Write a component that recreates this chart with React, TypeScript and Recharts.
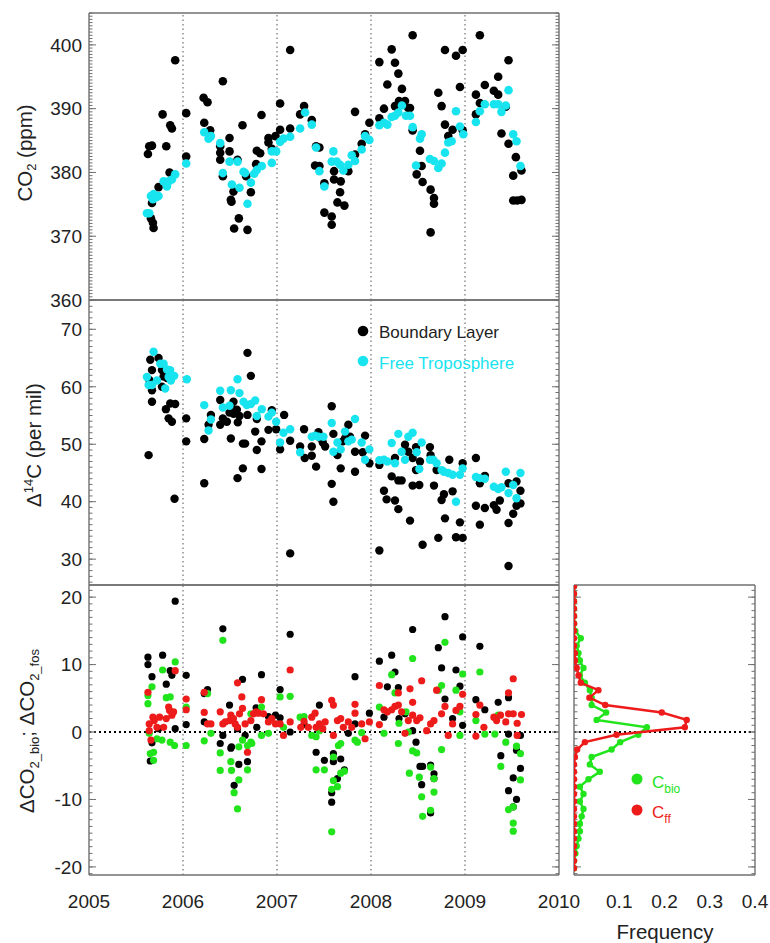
import React from 'react'
import { ScatterChart, Scatter, XAxis, YAxis, ReferenceLine } from 'recharts'

type Pt = [number, number]

// ticks / categories
const YEAR_TICKS = [2005, 2006, 2007, 2008, 2009, 2010]
const YEAR_LINES = [2006, 2007, 2008, 2009]
const CO2_TICKS = [360, 370, 380, 390, 400]
const D14C_TICKS = [30, 40, 50, 60, 70]
const DCO2_TICKS = [-20, -10, 0, 10, 20]
const FREQ_TICKS = [0.1, 0.2, 0.3, 0.4]

// CO2 (ppm), [decimal year, value]
const co2Boundary: Pt[] = [
  [2005.627, 382.9], [2005.641, 384.1], [2005.67, 384.2], [2005.67, 375.2], [2005.659, 372.8], [2005.68, 372.1],
  [2005.687, 371.3], [2005.74, 377.7], [2005.783, 389.1], [2005.822, 384.1], [2005.864, 387.4], [2005.882, 386.9],
  [2005.857, 380.0], [2005.917, 397.6], [2006.034, 389.3], [2006.034, 382.5], [2006.219, 391.7], [2006.261, 391.0],
  [2006.226, 387.8], [2006.289, 386.6], [2006.424, 394.3], [2006.396, 384.1], [2006.396, 383.1], [2006.396, 382.0],
  [2006.424, 379.4], [2006.495, 385.4], [2006.495, 383.3], [2006.509, 375.7], [2006.516, 375.4], [2006.537, 377.0],
  [2006.58, 382.0], [2006.544, 371.2], [2006.594, 372.8], [2006.633, 387.4], [2006.672, 379.4], [2006.686, 371.0],
  [2006.722, 376.9], [2006.778, 381.3], [2006.785, 383.4], [2006.835, 389.0], [2006.821, 383.0], [2006.909, 385.4],
  [2006.909, 384.7], [2006.945, 383.7], [2006.984, 385.7], [2007.033, 390.8], [2007.033, 386.7], [2007.14, 399.2],
  [2007.14, 386.9], [2007.246, 389.1], [2007.288, 390.4], [2007.37, 388.2], [2007.416, 384.1], [2007.451, 383.9],
  [2007.405, 381.1], [2007.451, 381.0], [2007.504, 378.3], [2007.504, 373.7], [2007.582, 373.1], [2007.582, 371.8],
  [2007.607, 380.2], [2007.607, 378.9], [2007.643, 375.3], [2007.671, 376.9], [2007.678, 378.6], [2007.717, 374.8],
  [2007.759, 380.2], [2007.83, 389.5], [2007.83, 382.8], [2007.901, 384.5], [2007.937, 386.0], [2007.983, 387.8],
  [2008.089, 397.3], [2008.089, 388.5], [2008.138, 390.0], [2008.174, 393.8], [2008.22, 399.3], [2008.255, 397.2],
  [2008.255, 390.4], [2008.291, 395.5], [2008.298, 391.2], [2008.329, 393.1], [2008.362, 391.2], [2008.397, 390.1],
  [2008.415, 390.1], [2008.443, 386.6], [2008.443, 401.5], [2008.521, 383.4], [2008.486, 379.7], [2008.539, 381.0],
  [2008.549, 378.5], [2008.634, 377.3], [2008.67, 376.0], [2008.67, 375.1], [2008.634, 370.6], [2008.716, 392.5],
  [2008.751, 390.4], [2008.787, 399.2], [2008.787, 387.5], [2008.822, 385.7], [2008.868, 386.7], [2008.904, 398.3],
  [2008.946, 393.4], [2008.975, 399.2], [2008.975, 386.6], [2009.116, 392.2], [2009.116, 389.1], [2009.158, 401.5],
  [2009.158, 390.9], [2009.211, 393.7], [2009.307, 392.8], [2009.353, 395.0], [2009.353, 392.2], [2009.388, 386.1],
  [2009.434, 390.3], [2009.463, 397.6], [2009.463, 384.5], [2009.541, 382.4], [2009.513, 379.5], [2009.513, 375.6],
  [2009.555, 375.6], [2009.601, 375.7], [2009.601, 380.3],
]
const co2Free: Pt[] = [
  [2005.616, 373.6], [2005.641, 373.6], [2005.659, 376.3], [2005.687, 376.6], [2005.68, 375.8], [2005.716, 376.1],
  [2005.74, 376.3], [2005.794, 378.6], [2005.829, 377.8], [2005.847, 378.6], [2005.882, 378.9], [2005.917, 379.7],
  [2006.034, 381.4], [2006.226, 386.3], [2006.272, 385.3], [2006.297, 385.7], [2006.396, 384.6], [2006.424, 379.9],
  [2006.495, 381.7], [2006.52, 378.1], [2006.58, 381.7], [2006.601, 377.6], [2006.644, 380.1], [2006.661, 379.9],
  [2006.686, 375.1], [2006.722, 378.4], [2006.757, 379.8], [2006.785, 380.4], [2006.838, 381.0], [2006.945, 383.3],
  [2006.945, 381.5], [2006.991, 383.3], [2007.033, 384.8], [2007.069, 385.3], [2007.14, 385.6], [2007.246, 386.9],
  [2007.299, 389.4], [2007.37, 387.5], [2007.416, 383.9], [2007.451, 380.2], [2007.504, 377.8], [2007.6, 383.3],
  [2007.582, 381.7], [2007.635, 381.7], [2007.671, 381.2], [2007.706, 380.3], [2007.759, 381.2], [2007.795, 382.7],
  [2007.83, 381.8], [2007.901, 383.6], [2007.937, 385.7], [2007.983, 385.1], [2008.089, 387.4], [2008.138, 387.8],
  [2008.174, 387.5], [2008.22, 388.7], [2008.255, 388.9], [2008.291, 389.4], [2008.329, 390.5], [2008.372, 388.9],
  [2008.415, 388.9], [2008.443, 387.1], [2008.521, 385.3], [2008.539, 386.0], [2008.479, 381.1], [2008.627, 382.1],
  [2008.67, 381.8], [2008.716, 380.7], [2008.751, 381.4], [2008.787, 383.1], [2008.822, 384.7], [2008.858, 384.9],
  [2008.904, 389.6], [2008.946, 387.2], [2008.982, 386.0], [2009.116, 387.9], [2009.158, 389.6], [2009.211, 390.7],
  [2009.307, 390.7], [2009.353, 390.7], [2009.388, 389.5], [2009.434, 390.5], [2009.463, 392.9], [2009.513, 386.0],
  [2009.548, 384.9], [2009.59, 381.0],
]

// Δ14C (per mil)
const d14cBoundary: Pt[] = [
  [2005.634, 48.1], [2005.641, 61.2], [2005.652, 64.7], [2005.67, 62.9], [2005.67, 59.4], [2005.67, 57.4],
  [2005.74, 65.0], [2005.776, 62.9], [2005.794, 61.8], [2005.829, 61.5], [2005.776, 60.0], [2005.818, 56.1],
  [2005.847, 54.5], [2005.882, 53.9], [2005.864, 57.1], [2005.917, 57.0], [2005.91, 40.5], [2006.034, 54.5],
  [2006.034, 50.5], [2006.226, 50.9], [2006.226, 43.2], [2006.272, 53.4], [2006.297, 55.1], [2006.396, 53.4],
  [2006.396, 57.7], [2006.424, 54.5], [2006.467, 53.9], [2006.495, 55.5], [2006.52, 56.2], [2006.537, 55.3],
  [2006.573, 56.0], [2006.509, 51.0], [2006.537, 57.4], [2006.583, 53.8], [2006.58, 44.1], [2006.601, 54.9],
  [2006.637, 50.1], [2006.661, 50.1], [2006.637, 45.8], [2006.686, 65.9], [2006.686, 55.1], [2006.722, 61.9],
  [2006.768, 52.2], [2006.785, 49.0], [2006.785, 54.4], [2006.835, 50.5], [2006.835, 45.7], [2006.909, 52.5],
  [2006.945, 55.9], [2006.991, 52.6], [2007.033, 49.1], [2007.076, 55.1], [2007.14, 50.6], [2007.14, 31.0],
  [2007.246, 49.6], [2007.288, 52.6], [2007.295, 47.6], [2007.37, 48.0], [2007.37, 49.6], [2007.416, 46.1],
  [2007.441, 52.1], [2007.458, 51.1], [2007.487, 50.3], [2007.512, 49.6], [2007.582, 56.6], [2007.582, 43.1],
  [2007.6, 40.0], [2007.6, 51.8], [2007.643, 48.1], [2007.678, 45.8], [2007.699, 50.5], [2007.724, 51.0],
  [2007.759, 53.4], [2007.777, 51.3], [2007.83, 48.7], [2007.83, 45.2], [2007.912, 48.6], [2007.937, 51.5],
  [2007.983, 46.7], [2008.089, 46.4], [2008.089, 31.5], [2008.138, 41.9], [2008.166, 40.4], [2008.22, 44.4],
  [2008.255, 40.2], [2008.255, 47.6], [2008.291, 38.7], [2008.291, 43.7], [2008.326, 43.7], [2008.362, 49.9],
  [2008.397, 48.7], [2008.415, 36.7], [2008.443, 42.8], [2008.479, 49.5], [2008.443, 47.6], [2008.479, 45.5],
  [2008.514, 42.9], [2008.521, 47.0], [2008.549, 32.5], [2008.627, 49.5], [2008.634, 48.1], [2008.67, 42.8],
  [2008.698, 45.5], [2008.716, 33.7], [2008.751, 40.3], [2008.776, 41.3], [2008.787, 37.1], [2008.833, 47.3],
  [2008.868, 41.8], [2008.904, 33.8], [2008.946, 36.4], [2008.975, 46.7], [2008.975, 33.7], [2009.116, 47.6],
  [2009.116, 39.3], [2009.158, 36.0], [2009.158, 43.2], [2009.211, 44.5], [2009.211, 38.9], [2009.307, 39.4],
  [2009.336, 38.6], [2009.371, 40.2], [2009.463, 43.2], [2009.463, 36.3], [2009.463, 28.8], [2009.513, 37.9],
  [2009.548, 39.3], [2009.548, 43.5], [2009.59, 41.9], [2009.59, 39.7],
]
const d14cFree: Pt[] = [
  [2005.616, 61.7], [2005.634, 60.3], [2005.67, 60.3], [2005.687, 66.1], [2005.723, 61.1], [2005.758, 64.0],
  [2005.794, 64.0], [2005.811, 59.7], [2005.829, 63.0], [2005.864, 62.9], [2005.847, 61.7], [2005.907, 61.9],
  [2005.871, 61.1], [2006.041, 61.3], [2006.226, 56.8], [2006.272, 52.4], [2006.297, 54.3], [2006.396, 59.3],
  [2006.424, 56.4], [2006.495, 56.7], [2006.509, 59.4], [2006.58, 61.3], [2006.601, 58.9], [2006.644, 57.4],
  [2006.679, 56.8], [2006.722, 57.0], [2006.768, 57.6], [2006.785, 54.9], [2006.838, 56.1], [2006.909, 54.8],
  [2006.945, 55.5], [2006.991, 53.9], [2007.033, 50.3], [2007.069, 52.0], [2007.14, 52.6], [2007.246, 48.6],
  [2007.37, 51.3], [2007.405, 51.5], [2007.441, 51.3], [2007.494, 51.3], [2007.582, 53.7], [2007.6, 48.7],
  [2007.643, 50.3], [2007.678, 49.1], [2007.724, 52.2], [2007.759, 50.5], [2007.795, 50.8], [2007.83, 54.4],
  [2007.901, 50.3], [2007.937, 47.3], [2007.983, 49.1], [2008.089, 47.2], [2008.138, 47.3], [2008.174, 47.0],
  [2008.22, 50.2], [2008.255, 46.7], [2008.291, 51.8], [2008.326, 48.7], [2008.362, 47.3], [2008.397, 51.3],
  [2008.443, 52.0], [2008.486, 48.6], [2008.514, 45.7], [2008.539, 50.3], [2008.627, 47.3], [2008.662, 47.3],
  [2008.698, 46.7], [2008.751, 45.5], [2008.776, 45.2], [2008.822, 45.0], [2008.868, 44.7], [2008.904, 40.0],
  [2008.946, 44.7], [2008.975, 45.8], [2009.116, 44.3], [2009.158, 44.1], [2009.211, 44.0], [2009.307, 42.6],
  [2009.353, 42.2], [2009.388, 42.5], [2009.434, 45.2], [2009.463, 41.5], [2009.513, 42.9], [2009.548, 40.6],
  [2009.59, 45.0],
]

// ΔCO2 total, biospheric, fossil (ppm)
const dco2Total: Pt[] = [
  [2005.627, 11.1], [2005.627, 10.0], [2005.67, 8.2], [2005.783, 11.4], [2005.822, 7.1], [2005.864, 9.1],
  [2005.882, 8.4], [2005.917, 19.4], [2005.652, -4.3], [2005.67, -1.6], [2005.74, 0.5], [2005.917, 0.5],
  [2006.034, 8.4], [2006.034, 1.1], [2006.226, 5.7], [2006.261, 6.3], [2006.226, 1.5], [2006.424, 15.3],
  [2006.424, -0.5], [2006.396, -1.7], [2006.495, 4.0], [2006.509, -2.4], [2006.516, -2.2], [2006.544, -7.9],
  [2006.594, -4.8], [2006.58, 0.5], [2006.633, 7.8], [2006.661, -0.5], [2006.686, -4.4], [2006.778, 3.6],
  [2006.835, 8.5], [2006.785, 0.7], [2006.909, 2.3], [2006.984, 2.5], [2007.033, 6.3], [2007.033, 2.1],
  [2007.14, 14.5], [2007.14, 0.0], [2007.288, 1.1], [2007.451, 4.0], [2007.416, -3.0], [2007.504, -4.2],
  [2007.6, -3.2], [2007.6, -4.4], [2007.582, -9.0], [2007.582, -10.4], [2007.643, -6.9], [2007.678, -4.0],
  [2007.717, -5.6], [2007.83, 8.2], [2007.83, 1.2], [2007.759, -0.2], [2007.983, 2.8], [2008.089, 10.5],
  [2008.138, 2.2], [2008.22, 11.4], [2008.255, 8.9], [2008.174, 6.7], [2008.291, 6.6], [2008.298, 2.0],
  [2008.362, 2.7], [2008.443, 15.2], [2008.443, 0.2], [2008.479, -1.5], [2008.521, -5.1], [2008.549, -5.1],
  [2008.539, -7.8], [2008.634, -4.9], [2008.67, -6.2], [2008.67, -6.9], [2008.634, -12.0], [2008.716, 12.5],
  [2008.751, 9.5], [2008.787, 4.9], [2008.787, 17.1], [2008.868, 2.0], [2008.904, 9.2], [2008.946, 6.8],
  [2008.975, 14.1], [2008.975, 1.0], [2009.116, 4.8], [2009.158, 12.7], [2009.211, 3.3], [2009.353, 4.4],
  [2009.463, 5.1], [2009.381, -3.5], [2009.463, -8.7], [2009.513, -6.8], [2009.513, -11.1], [2009.548, -10.0],
  [2009.548, -2.7], [2009.59, -0.5], [2009.59, -5.4], [2009.463, -0.3],
]
const dco2Bio: Pt[] = [
  [2005.627, 5.4], [2005.627, 4.2], [2005.67, 6.7], [2005.652, -3.2], [2005.687, -3.0], [2005.687, -4.2],
  [2005.641, -0.2], [2005.723, -1.0], [2005.776, -1.2], [2005.783, 9.2], [2005.822, 5.1], [2005.864, 5.2],
  [2005.917, 10.4], [2005.864, -1.5], [2005.91, -2.0], [2006.034, 3.7], [2006.034, -2.0], [2006.226, -1.3],
  [2006.261, 5.7], [2006.297, -0.2], [2006.424, 13.6], [2006.396, -3.1], [2006.396, -5.7], [2006.509, -4.4],
  [2006.516, -5.7], [2006.544, -9.0], [2006.58, -11.4], [2006.594, -2.2], [2006.594, -7.1], [2006.633, -1.2],
  [2006.686, -2.0], [2006.686, -5.6], [2006.722, -1.5], [2006.732, -1.7], [2006.722, 2.7], [2006.835, 3.7],
  [2006.835, -0.5], [2006.909, -0.2], [2007.033, 5.2], [2007.069, 0.7], [2007.14, 5.3], [2007.246, 2.2],
  [2007.288, 2.3], [2007.37, -0.5], [2007.416, -0.7], [2007.451, 0.2], [2007.416, -5.6], [2007.504, -5.6],
  [2007.6, -3.7], [2007.6, -7.2], [2007.582, -8.5], [2007.582, -14.8], [2007.643, -8.1], [2007.653, -2.0],
  [2007.678, -1.7], [2007.678, -6.1], [2007.717, -5.8], [2007.83, -1.2], [2007.855, -1.5], [2007.901, -0.1],
  [2008.089, 3.7], [2008.138, -0.2], [2008.22, 8.5], [2008.255, 5.8], [2008.291, -1.7], [2008.298, 1.3],
  [2008.372, 3.0], [2008.397, 0.0], [2008.408, -6.1], [2008.443, 10.9], [2008.443, -2.8], [2008.486, -3.1],
  [2008.514, -6.7], [2008.539, -9.6], [2008.549, -12.5], [2008.634, -5.2], [2008.67, -6.9], [2008.67, -8.9],
  [2008.634, -11.6], [2008.716, 6.2], [2008.751, 6.9], [2008.751, -2.6], [2008.787, 13.3], [2008.904, 6.2],
  [2008.946, 3.0], [2008.975, 8.6], [2008.946, -0.5], [2009.158, 8.9], [2009.116, 1.7], [2009.211, -0.3],
  [2009.318, -0.3], [2009.353, 2.5], [2009.381, -5.1], [2009.434, -1.5], [2009.463, -11.5], [2009.513, -11.1],
  [2009.513, -13.5], [2009.513, -14.7], [2009.548, -2.1], [2009.59, -3.2], [2009.59, -7.1],
]
const dco2Ff: Pt[] = [
  [2005.627, 5.9], [2005.641, 1.2], [2005.641, 0.2], [2005.659, -1.2], [2005.68, 2.2], [2005.694, 1.7],
  [2005.723, 0.7], [2005.751, 2.2], [2005.794, 0.7], [2005.822, 2.0], [2005.847, 3.7], [2005.857, 3.2],
  [2005.882, 2.5], [2005.9, 3.0], [2005.917, 9.1], [2006.034, 4.9], [2006.034, 3.3], [2006.226, 5.9],
  [2006.226, 2.9], [2006.261, 1.2], [2006.297, 1.2], [2006.396, 3.0], [2006.424, 1.2], [2006.449, 1.5],
  [2006.495, 1.7], [2006.509, 2.5], [2006.537, 2.0], [2006.555, 1.2], [2006.58, 7.3], [2006.58, 0.7],
  [2006.601, 2.7], [2006.626, 5.2], [2006.633, 3.5], [2006.661, 1.2], [2006.686, -3.0], [2006.722, 1.7],
  [2006.75, 2.7], [2006.778, 3.0], [2006.803, 2.8], [2006.835, 4.8], [2006.856, 2.7], [2006.909, 1.5],
  [2006.945, 2.0], [2006.984, 1.2], [2007.033, 1.2], [2007.069, -0.5], [2007.14, 9.2], [2007.14, 1.5],
  [2007.253, 0.7], [2007.288, 1.6], [2007.334, 0.7], [2007.37, 2.2], [2007.405, 2.8], [2007.416, 0.7],
  [2007.451, 1.2], [2007.487, 0.5], [2007.512, 1.5], [2007.582, 4.7], [2007.6, 4.0], [2007.6, -0.5],
  [2007.643, 1.7], [2007.678, 2.0], [2007.706, 0.7], [2007.759, 1.5], [2007.795, 0.7], [2007.83, 4.1],
  [2007.83, 2.8], [2007.901, 1.2], [2007.937, -1.0], [2007.983, 1.5], [2008.089, 6.9], [2008.089, 1.1],
  [2008.138, 3.3], [2008.174, 3.0], [2008.22, 3.3], [2008.255, 3.8], [2008.291, 5.8], [2008.291, 4.0],
  [2008.326, 3.0], [2008.362, -0.2], [2008.397, 1.7], [2008.415, 6.4], [2008.443, 4.4], [2008.443, 2.5],
  [2008.486, 1.7], [2008.521, 2.1], [2008.539, 7.6], [2008.592, 0.2], [2008.634, 1.2], [2008.67, 1.7],
  [2008.698, 6.2], [2008.751, 2.7], [2008.787, 3.8], [2008.822, -0.5], [2008.868, 1.2], [2008.904, 3.2],
  [2008.946, 3.8], [2008.975, 5.6], [2009.116, -0.6], [2009.116, 2.6], [2009.158, 4.0], [2009.201, 0.7],
  [2009.307, 2.2], [2009.336, 1.7], [2009.378, 2.5], [2009.434, 1.5], [2009.463, 5.8], [2009.513, 7.9],
  [2009.463, 2.7], [2009.513, 2.7], [2009.555, 1.3], [2009.601, 2.6], [2009.555, -0.5],
]

// frequency histograms of ΔCO2 (bin centre, ppm)
const HIST_BINS = [
  21.6, 20.5, 19.4, 18.3, 17.2, 16.1, 15.0, 13.9, 12.8, 11.7, 10.6, 9.5, 8.4, 7.3, 6.2, 5.1, 4.0, 2.9, 1.8, 0.7,
  -0.4, -1.5, -2.6, -3.7, -4.8, -5.9, -7.0, -8.1, -9.2, -10.3, -11.4, -12.5, -13.6, -14.7, -15.8, -16.9, -18.0, -19.1, -20.2,
]
const HIST_BIO = [
  0, 0, 0, 0, 0, 0, 0.003, 0.015, 0.006, 0.01, 0.013, 0.021, 0.013, 0.024, 0.035, 0.039, 0.039, 0.071, 0.05, 0.161,
  0.142, 0.102, 0.083, 0.039, 0.035, 0.057, 0.032, 0.013, 0.021, 0.013, 0.021, 0.017, 0.013, 0.013, 0.01, 0.006, 0.003, 0, 0,
]
const HIST_FF = [
  0, 0, 0, 0, 0, 0, 0, 0, 0, 0.002, 0.002, 0.006, 0.01, 0.015, 0.054, 0.034, 0.069, 0.194, 0.249, 0.245,
  0.094, 0.024, 0.007, 0.002, 0, 0, 0, 0, 0, 0, 0, 0, 0, 0, 0, 0, 0, 0, 0,
]

const FONT = '"Liberation Sans", Arial, Helvetica, sans-serif'
const TEXT = '#222'
const FRAME = '#707070'
const GRID = '#8c8c8c'
const BLACK = '#000'
const CYAN = '#18e4ef'
const GREEN = '#22e41c'
const RED = '#ee1b1b'

const range = (a: number, b: number, step: number) => {
  const out: number[] = []
  for (let i = 0; a + i * step <= b + 1e-9; i++) out.push(+(a + i * step).toFixed(4))
  return out
}

const YEAR_DOMAIN: [number, number] = [2005, 2010]
const YEAR_MINOR = range(2005, 2010, 0.1)

const toXY = (pts: Pt[]) => pts.map(([x, y]) => ({ x, y }))
const dot = (r: number, fill: string) => (p: any) => <circle cx={p.cx} cy={p.cy} r={r} fill={fill} />
const noLabel = () => null

// box with inward major/minor ticks on all four sides (mirrored, near-zero size so they don't shift the plot)
const THIN = 0.01
function frameAxes(xDomain: [number, number], yDomain: [number, number], xMajor: number[], xMinor: number[], yMajor: number[], yMinor: number[]) {
  const common = {
    type: 'number' as const,
    allowDataOverflow: true,
    mirror: true,
    tick: noLabel,
    interval: 0 as const,
    tickLine: { stroke: FRAME, strokeWidth: 1 },
  }
  const line = { stroke: FRAME, strokeWidth: 1.4 }
  return [
    <XAxis key="xt" xAxisId="xt" orientation="top" height={THIN} domain={xDomain} ticks={xMajor} tickSize={7} axisLine={line} {...common} />,
    <XAxis key="xtm" xAxisId="xtm" orientation="top" height={THIN} domain={xDomain} ticks={xMinor} tickSize={3.5} axisLine={false} {...common} />,
    <XAxis key="xb" xAxisId="xb" orientation="bottom" height={THIN} domain={xDomain} ticks={xMajor} tickSize={7} axisLine={line} {...common} />,
    <XAxis key="xbm" xAxisId="xbm" orientation="bottom" height={THIN} domain={xDomain} ticks={xMinor} tickSize={3.5} axisLine={false} {...common} />,
    <YAxis key="yl" yAxisId="yl" orientation="left" width={THIN} domain={yDomain} ticks={yMajor} tickSize={7} axisLine={line} {...common} />,
    <YAxis key="ylm" yAxisId="ylm" orientation="left" width={THIN} domain={yDomain} ticks={yMinor} tickSize={3.5} axisLine={false} {...common} />,
    <YAxis key="yr" yAxisId="yr" orientation="right" width={THIN} domain={yDomain} ticks={yMajor} tickSize={7} axisLine={line} {...common} />,
    <YAxis key="yrm" yAxisId="yrm" orientation="right" width={THIN} domain={yDomain} ticks={yMinor} tickSize={3.5} axisLine={false} {...common} />,
  ]
}

const yearLines = () =>
  YEAR_LINES.map(yr => (
    <ReferenceLine key={yr} xAxisId="b" yAxisId="l" x={yr} stroke={GRID} strokeWidth={1.5} strokeDasharray="1.5 3" />
  ))

const tickStyle = { fontSize: 19, fill: TEXT }

const leftYAxis = (domain: [number, number], ticks: number[]) => (
  <YAxis
    yAxisId="l"
    dataKey="y"
    type="number"
    domain={domain}
    allowDataOverflow
    ticks={ticks}
    interval={0}
    width={89}
    tickSize={0}
    tickMargin={7}
    tickLine={false}
    axisLine={false}
    tick={tickStyle}
  />
)

const CO2_DOMAIN: [number, number] = [360, 405]
const D14C_DOMAIN: [number, number] = [25.5, 75.1]
const DCO2_DOMAIN: [number, number] = [-21.2, 21.8]
const FREQ_DOMAIN: [number, number] = [0, 0.4]

export default function App() {
  return (
    <div style={{ position: 'absolute', left: 0, top: 0, width: 770, height: 943, background: '#fff', fontFamily: FONT }}>
      {/* CO2 */}
      <div style={{ position: 'absolute', left: 0, top: 0 }}>
        <ScatterChart width={570} height={310} margin={{ top: 13, right: 11, bottom: 10, left: 0 }}>
          <XAxis xAxisId="b" dataKey="x" type="number" domain={YEAR_DOMAIN} allowDataOverflow hide />
          {leftYAxis(CO2_DOMAIN, CO2_TICKS)}
          {frameAxes(YEAR_DOMAIN, CO2_DOMAIN, YEAR_TICKS, YEAR_MINOR, CO2_TICKS, range(360, 405, 0.5))}
          {yearLines()}
          <Scatter xAxisId="b" yAxisId="l" data={toXY(co2Boundary)} shape={dot(4.3, BLACK)} isAnimationActive={false} />
          <Scatter xAxisId="b" yAxisId="l" data={toXY(co2Free)} shape={dot(4.3, CYAN)} isAnimationActive={false} />
        </ScatterChart>
      </div>

      {/* Δ14C */}
      <div style={{ position: 'absolute', left: 0, top: 290 }}>
        <ScatterChart width={570} height={305} margin={{ top: 10, right: 11, bottom: 10, left: 0 }}>
          <XAxis xAxisId="b" dataKey="x" type="number" domain={YEAR_DOMAIN} allowDataOverflow hide />
          {leftYAxis(D14C_DOMAIN, D14C_TICKS)}
          {frameAxes(YEAR_DOMAIN, D14C_DOMAIN, YEAR_TICKS, YEAR_MINOR, D14C_TICKS, range(26, 75, 1))}
          {yearLines()}
          <Scatter xAxisId="b" yAxisId="l" data={toXY(d14cBoundary)} shape={dot(4.2, BLACK)} isAnimationActive={false} />
          <Scatter xAxisId="b" yAxisId="l" data={toXY(d14cFree)} shape={dot(4.2, CYAN)} isAnimationActive={false} />
        </ScatterChart>
      </div>

      {/* ΔCO2 components */}
      <div style={{ position: 'absolute', left: 0, top: 575 }}>
        <ScatterChart width={600} height={340} margin={{ top: 10, right: 41, bottom: 0, left: 0 }}>
          <XAxis
            xAxisId="b"
            dataKey="x"
            type="number"
            domain={YEAR_DOMAIN}
            allowDataOverflow
            ticks={YEAR_TICKS}
            interval={0}
            height={40}
            tickSize={0}
            tickMargin={20}
            tickLine={false}
            axisLine={false}
            tick={tickStyle}
          />
          {leftYAxis(DCO2_DOMAIN, DCO2_TICKS)}
          {frameAxes(YEAR_DOMAIN, DCO2_DOMAIN, YEAR_TICKS, YEAR_MINOR, DCO2_TICKS, range(-21, 21, 1))}
          {yearLines()}
          <ReferenceLine xAxisId="b" yAxisId="l" y={0} stroke={BLACK} strokeWidth={2} strokeDasharray="2 3" />
          <Scatter xAxisId="b" yAxisId="l" data={toXY(dco2Total)} shape={dot(3.6, BLACK)} isAnimationActive={false} />
          <Scatter xAxisId="b" yAxisId="l" data={toXY(dco2Bio)} shape={dot(3.6, GREEN)} isAnimationActive={false} />
          <Scatter xAxisId="b" yAxisId="l" data={toXY(dco2Ff)} shape={dot(3.6, RED)} isAnimationActive={false} />
        </ScatterChart>
      </div>

      {/* frequency histograms */}
      <div style={{ position: 'absolute', left: 560, top: 575 }}>
        <ScatterChart width={210} height={340} margin={{ top: 10, right: 15, bottom: 0, left: 14 }}>
          <XAxis
            xAxisId="b"
            dataKey="x"
            type="number"
            domain={FREQ_DOMAIN}
            allowDataOverflow
            ticks={FREQ_TICKS}
            interval={0}
            height={40}
            tickSize={0}
            tickMargin={20}
            tickLine={false}
            axisLine={false}
            tick={tickStyle}
          />
          <YAxis yAxisId="l" dataKey="y" type="number" domain={DCO2_DOMAIN} allowDataOverflow hide />
          {frameAxes(FREQ_DOMAIN, DCO2_DOMAIN, [0, 0.1, 0.2, 0.3, 0.4], range(0, 0.4, 0.01), DCO2_TICKS, range(-21, 21, 1))}
          <ReferenceLine xAxisId="b" yAxisId="l" y={0} stroke={BLACK} strokeWidth={2} strokeDasharray="2 3" />
          <Scatter
            xAxisId="b"
            yAxisId="l"
            data={HIST_BINS.map((b, i) => ({ x: HIST_BIO[i], y: b }))}
            line={{ stroke: GREEN, strokeWidth: 2.5 }}
            shape={dot(3.2, GREEN)}
            isAnimationActive={false}
          />
          <Scatter
            xAxisId="b"
            yAxisId="l"
            data={HIST_BINS.map((b, i) => ({ x: HIST_FF[i], y: b }))}
            line={{ stroke: RED, strokeWidth: 2.5 }}
            shape={dot(3.2, RED)}
            isAnimationActive={false}
          />
        </ScatterChart>
      </div>

      {/* titles and legends */}
      <svg width={770} height={943} style={{ position: 'absolute', left: 0, top: 0, pointerEvents: 'none' }} fontFamily={FONT}>
        <text transform="translate(32,153) rotate(-90)" textAnchor="middle" fontSize={20.5} fill={TEXT}>
          CO<tspan fontSize={13} dy={4}>2</tspan><tspan dy={-4}> (ppm)</tspan>
        </text>
        <text transform="translate(41,445) rotate(-90)" textAnchor="middle" fontSize={20.5} fill={TEXT}>
          Δ<tspan fontSize={13} dy={-8}>14</tspan><tspan dy={8}>C (per mil)</tspan>
        </text>
        <text transform="translate(33.5,731) rotate(-90)" textAnchor="middle" fontSize={20.5} fill={TEXT}>
          ΔCO<tspan fontSize={13} dy={5}>2_bio</tspan><tspan dy={-5}>; ΔCO</tspan><tspan fontSize={13} dy={5}>2_fos</tspan>
        </text>
        <text x={665} y={939} textAnchor="middle" fontSize={20.5} fill={TEXT}>Frequency</text>

        <circle cx={363} cy={331} r={5.3} fill={BLACK} />
        <text x={379} y={338} fontSize={17} fill={TEXT}>Boundary Layer</text>
        <circle cx={363} cy={361} r={5.3} fill={CYAN} />
        <text x={379} y={369} fontSize={17} fill={CYAN}>Free Troposphere</text>

        <circle cx={637} cy={779} r={5.5} fill={GREEN} />
        <text x={652} y={788} fontSize={17} fill={GREEN}>
          C<tspan fontSize={12} dy={5}>bio</tspan>
        </text>
        <circle cx={637} cy={810} r={5.5} fill={RED} />
        <text x={652} y={818} fontSize={17} fill={RED}>
          C<tspan fontSize={12} dy={5}>ff</tspan>
        </text>
      </svg>
    </div>
  )
}
